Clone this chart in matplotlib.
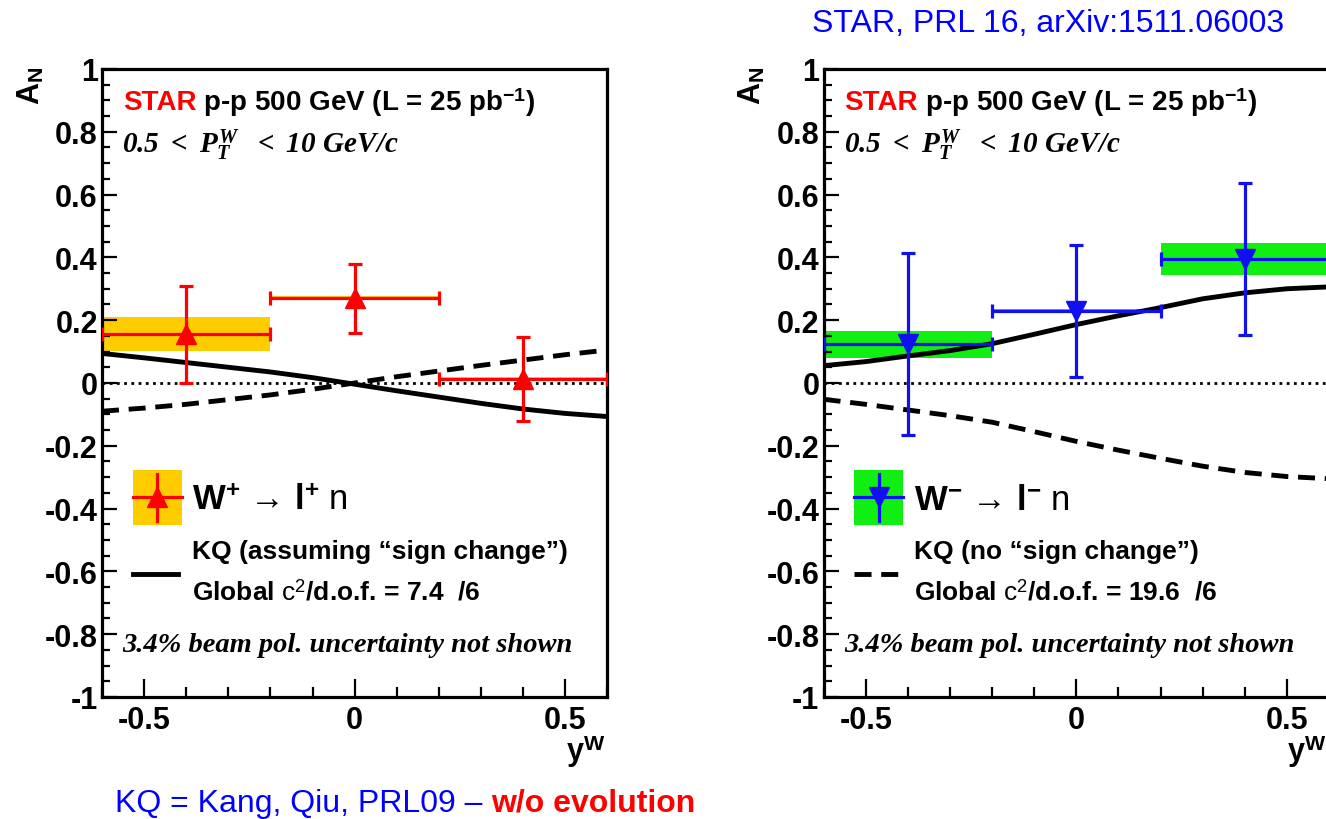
import numpy as np
import matplotlib.pyplot as plt
from matplotlib.ticker import FixedLocator, MultipleLocator
from matplotlib.patches import Rectangle

plt.rcParams['font.family'] = ['Liberation Sans', 'DejaVu Sans']
plt.rcParams['mathtext.fontset'] = 'custom'
plt.rcParams['mathtext.rm'] = 'Liberation Serif:bold:italic'
plt.rcParams['mathtext.it'] = 'Liberation Serif:bold:italic'
plt.rcParams['mathtext.bf'] = 'Liberation Sans:bold'
plt.rcParams['mathtext.sf'] = 'Liberation Sans'

# ---- data ----
yw_bins = [-0.4, 0.0, 0.4]
yw_halfwidth = [0.2, 0.2, 0.2]

an_wplus = [0.155, 0.27, 0.013]
stat_wplus = [0.155, 0.11, 0.133]
sys_wplus = [0.054, 0.006, 0.006]

an_wminus = [0.123, 0.23, 0.395]
stat_wminus = [0.29, 0.21, 0.242]
sys_wminus = [0.042, 0.006, 0.052]

# KQ theory curves
kq_y = [-0.6, -0.5, -0.4, -0.3, -0.2, -0.1, 0.0, 0.1, 0.2, 0.3, 0.4, 0.5, 0.6]
kq_wplus_sign = [0.094, 0.080, 0.065, 0.050, 0.035, 0.017, -0.004, -0.025, -0.045,
                 -0.065, -0.083, -0.097, -0.107]
kq_wplus_nosign = [-0.090, -0.080, -0.068, -0.053, -0.038, -0.020, 0.0, 0.020, 0.038,
                   0.056, 0.073, 0.090, 0.105]
kq_wminus_sign = [0.055, 0.068, 0.086, 0.103, 0.125, 0.155, 0.186, 0.214, 0.240,
                  0.268, 0.287, 0.300, 0.306]
kq_wminus_nosign = [-0.052, -0.068, -0.086, -0.104, -0.125, -0.155, -0.186, -0.214,
                    -0.240, -0.265, -0.285, -0.298, -0.305]

x_ticks = [-0.5, 0.0, 0.5]
x_ticklabels = ['-0.5', '0', '0.5']
y_ticks = [-1, -0.8, -0.6, -0.4, -0.2, 0, 0.2, 0.4, 0.6, 0.8, 1]
y_ticklabels = ['-1', '-0.8', '-0.6', '-0.4', '-0.2', '0', '0.2', '0.4', '0.6', '0.8', '1']

RED = '#FF0000'
BLUE = '#1010F0'
YELLOW = '#FFCC00'
GREEN = '#11EE11'
DASH = (0, (3.5, 2.0))

fig = plt.figure(figsize=(13.26, 8.2), dpi=100)
ax_l = fig.add_axes([0.0769, 0.1488, 0.3812, 0.7659])
ax_r = fig.add_axes([0.6211, 0.1488, 0.3812, 0.7659])


def style_axes(ax):
    ax.set_xlim(-0.6, 0.6)
    ax.set_ylim(-1, 1)
    ax.xaxis.set_major_locator(FixedLocator(x_ticks))
    ax.set_xticklabels(x_ticklabels)
    ax.xaxis.set_minor_locator(MultipleLocator(0.1))
    ax.yaxis.set_major_locator(FixedLocator(y_ticks))
    ax.set_yticklabels(y_ticklabels)
    ax.yaxis.set_minor_locator(MultipleLocator(0.05))
    ax.tick_params(which='both', direction='in', top=False, right=False, width=1.6)
    ax.tick_params(axis='y', which='major', length=11, pad=3)
    ax.tick_params(axis='y', which='minor', length=6)
    ax.tick_params(axis='x', which='major', length=13, pad=6)
    ax.tick_params(axis='x', which='minor', length=7)
    for lab in ax.get_xticklabels() + ax.get_yticklabels():
        lab.set_fontsize(22)
        lab.set_fontweight('bold')
    for s in ax.spines.values():
        s.set_linewidth(2.3)
    ax.axhline(0, color='black', lw=2.0, ls=(0, (1, 1.6)), zorder=2)
    ax.text(0.995, -0.086, r'y$^{\mathbf{W}}$', transform=ax.transAxes, ha='right',
            va='center', fontsize=22, fontweight='bold')


def draw_data(ax, an, stat, sysu, color, boxcolor, marker):
    for x, hw, y, s in zip(yw_bins, yw_halfwidth, an, sysu):
        ax.add_patch(Rectangle((x - hw, y - s), 2 * hw, 2 * s, facecolor=boxcolor,
                               edgecolor='none', zorder=1))
    ax.errorbar(yw_bins, an, xerr=yw_halfwidth, yerr=stat, fmt=marker, color=color,
                ms=14, lw=2.3, capsize=5, capthick=2.3, zorder=5)


def draw_header(ax):
    t = ax.text(0.041, 0.947, 'STAR', transform=ax.transAxes, color=RED, fontsize=20,
                fontweight='bold', va='center')
    ax.annotate(r' p-p 500 GeV (L = 25 pb$^{\mathbf{-1}}$)', xy=(1, 0.5), xycoords=t,
                va='center', fontsize=20, fontweight='bold')
    ax.text(0.040, 0.881, r'$0.5\ <\ P_{T}^{W}\ \ <\ 10\ GeV/c$', transform=ax.transAxes,
            fontsize=21, va='center')
    ax.text(0.040, 0.084, '3.4% beam pol. uncertainty not shown', transform=ax.transAxes,
            family='Liberation Serif', fontweight='bold', style='italic', fontsize=20.5,
            va='center')


def draw_legend(ax, boxcolor, color, marker, sign, label, curve_label, chi2):
    tr = ax.transAxes
    ax.add_patch(Rectangle((0.061, 0.274), 0.097, 0.0875, transform=tr,
                           facecolor=boxcolor, edgecolor='none', clip_on=False))
    ax.plot([0.061, 0.158], [0.318, 0.318], transform=tr, color=color, lw=2.3,
            clip_on=False)
    ax.plot([0.1095, 0.1095], [0.280, 0.355], transform=tr, color=color, lw=2.3,
            clip_on=False)
    ax.plot([0.1095], [0.318], transform=tr, marker=marker, color=color, ms=14,
            clip_on=False)
    ax.text(0.179, 0.315, label, transform=tr, fontsize=25, fontweight='bold',
            va='center')
    ax.plot([0.061, 0.150], [0.196, 0.196], transform=tr, color='black', lw=3.5,
            ls='-' if sign else DASH, clip_on=False)
    ax.text(0.179, 0.232, curve_label, transform=tr, fontsize=19, fontweight='bold',
            va='center')
    ax.text(0.179, 0.169, r'Global $\mathsf{c}^{\mathsf{2}}$/d.o.f. = ' + chi2 + '  /6',
            transform=tr, fontsize=19, fontweight='bold', va='center')


# ---- left panel: W+ ----
style_axes(ax_l)
draw_data(ax_l, an_wplus, stat_wplus, sys_wplus, RED, YELLOW, '^')
ax_l.plot(kq_y, kq_wplus_sign, color='black', lw=3.5, zorder=3)
ax_l.plot(kq_y, kq_wplus_nosign, color='black', lw=3.5, ls=DASH, zorder=3)
draw_header(ax_l)
draw_legend(ax_l, YELLOW, RED, '^', True,
            'W$^{\\mathbf{+}}$ \u2192 l$^{\\mathbf{+}}$ $\\mathsf{n}$',
            'KQ (assuming \u201csign change\u201d)', '7.4')

# ---- right panel: W- ----
style_axes(ax_r)
draw_data(ax_r, an_wminus, stat_wminus, sys_wminus, BLUE, GREEN, 'v')
ax_r.plot(kq_y, kq_wminus_sign, color='black', lw=3.5, zorder=3)
ax_r.plot(kq_y, kq_wminus_nosign, color='black', lw=3.5, ls=DASH, zorder=3)
draw_header(ax_r)
draw_legend(ax_r, GREEN, BLUE, 'v', False,
            'W$^{\\mathbf{-}}$ \u2192 l$^{\\mathbf{-}}$ $\\mathsf{n}$',
            'KQ (no \u201csign change\u201d)', '19.6')

# axis titles A_N
for xpix in (31, 752):
    fig.text(xpix / 1326, 1 - 86 / 820, r'A$_{\mathbf{N}}$', rotation=90, ha='center',
             va='center', fontsize=22, fontweight='bold')

# blue captions
fig.text(1048 / 1326, 1 - 24 / 820, 'STAR, PRL 16, arXiv:1511.06003', color='#0000FF',
         fontsize=23, ha='center', va='center')
t = fig.text(115 / 1326, 1 - 804 / 820, 'KQ = Kang, Qiu, PRL09 \u2013 ', color='#0000FF',
             fontsize=23, va='center')
plt.annotate('w/o evolution', xy=(1, 0.5), xycoords=t, va='center', color=RED,
             fontsize=23, fontweight='bold', annotation_clip=False)

fig.savefig('out.png', dpi=100)
